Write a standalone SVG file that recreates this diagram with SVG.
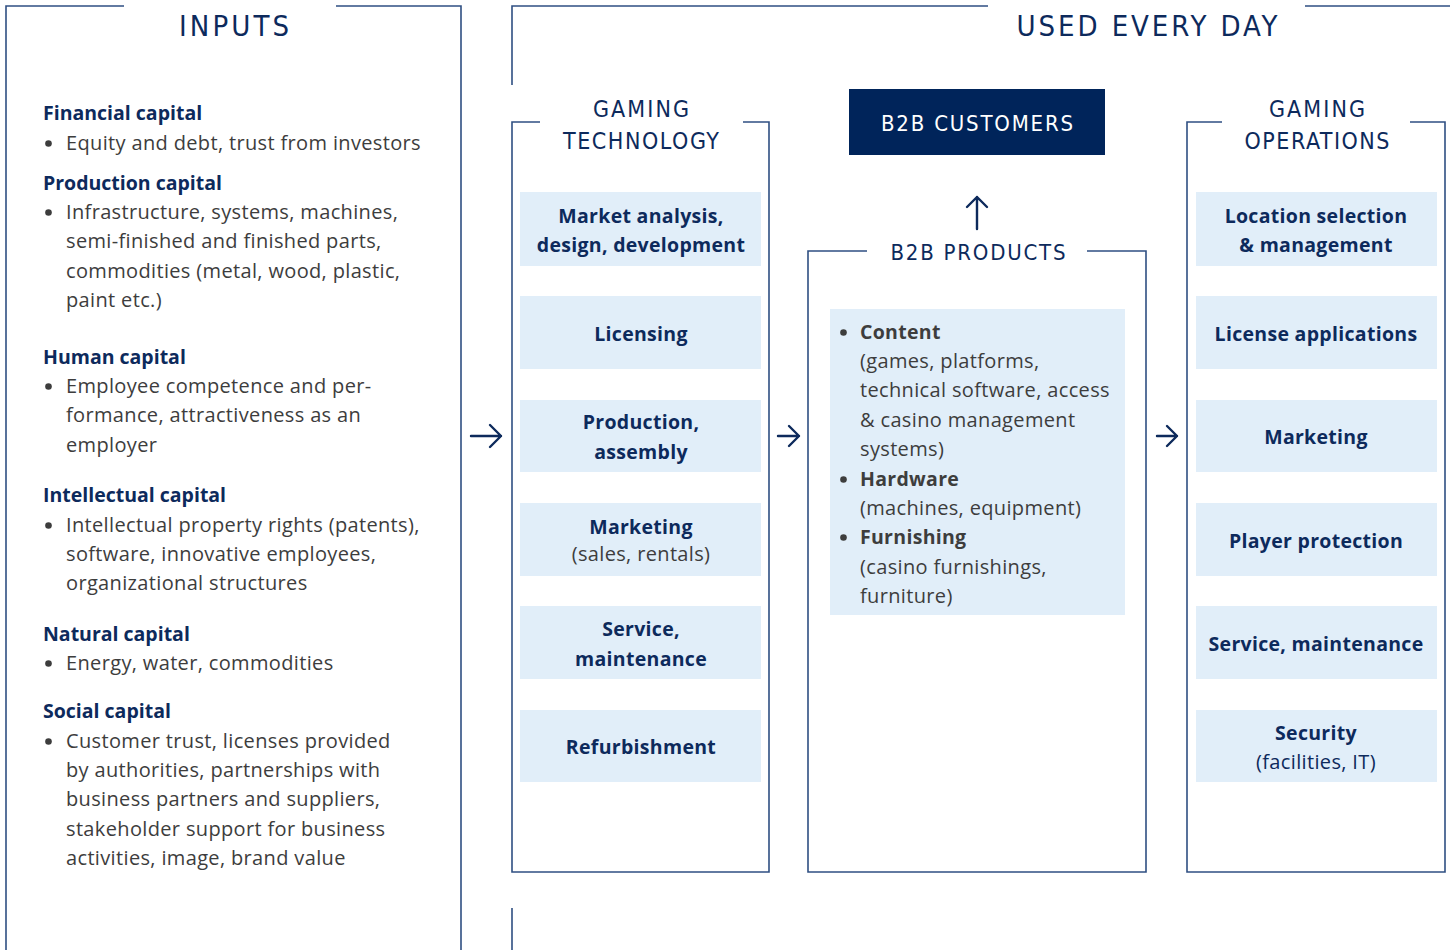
<svg xmlns="http://www.w3.org/2000/svg" width="1450" height="950" viewBox="0 0 1450 950">
<defs>
<style>
.ln{fill:none;stroke:#2f4f82;stroke-width:1.6}
.ar{fill:none;stroke:#0d2a5c;stroke-width:2.4;stroke-linecap:round;stroke-linejoin:round}
.ttl{font-family:"DejaVu Sans Condensed","DejaVu Sans","Liberation Sans",sans-serif;font-stretch:condensed;fill:#0d2a5c;text-anchor:middle}
.h{font-family:"Open Sans","Noto Sans",sans-serif;font-weight:700;font-size:19.5px;fill:#0d2a5c}
.b{font-family:"Open Sans","Noto Sans",sans-serif;font-size:20px;letter-spacing:0.35px;fill:#3d3d3d}
.nb{font-family:"Open Sans","Noto Sans",sans-serif;font-weight:700;font-size:19.5px;letter-spacing:0.3px;fill:#0d2a5c;text-anchor:middle}
.nr{font-family:"Open Sans","Noto Sans",sans-serif;font-size:20px;letter-spacing:0.35px;fill:#3d3d3d;text-anchor:middle}
.nrb{font-family:"Open Sans","Noto Sans",sans-serif;font-size:20px;letter-spacing:0.35px;fill:#0d2a5c;text-anchor:middle}
.bx{fill:#e1eef9}
.dot{fill:#3d3d3d}
.mb{font-family:"Open Sans","Noto Sans",sans-serif;font-weight:700;font-size:19.5px;letter-spacing:0.3px;fill:#3d3d3d}
</style>
</defs>

<g id="inputs">
<path class="ln" d="M124,6 H6 V950 M336,6 H461 V950"/>
<text class="ttl" x="234" y="36" font-size="29" textLength="110" lengthAdjust="spacing">INPUTS</text>
<text class="h" x="43" y="120">Financial capital</text>
<circle class="dot" cx="48.5" cy="143.5" r="3.3"/><text class="b" x="66" y="150">Equity and debt, trust from investors</text>
<text class="h" x="43" y="190">Production capital</text>
<circle class="dot" cx="48.5" cy="212.5" r="3.3"/><text class="b" x="66" y="219">Infrastructure, systems, machines,</text>
<text class="b" x="66" y="248">semi-finished and finished parts,</text>
<text class="b" x="66" y="278">commodities (metal, wood, plastic,</text>
<text class="b" x="66" y="307">paint etc.)</text>
<text class="h" x="43" y="364">Human capital</text>
<circle class="dot" cx="48.5" cy="386.5" r="3.3"/><text class="b" x="66" y="393">Employee competence and per-</text>
<text class="b" x="66" y="422">formance, attractiveness as an</text>
<text class="b" x="66" y="452">employer</text>
<text class="h" x="43" y="502">Intellectual capital</text>
<circle class="dot" cx="48.5" cy="525.5" r="3.3"/><text class="b" x="66" y="532">Intellectual property rights (patents),</text>
<text class="b" x="66" y="561">software, innovative employees,</text>
<text class="b" x="66" y="590">organizational structures</text>
<text class="h" x="43" y="641">Natural capital</text>
<circle class="dot" cx="48.5" cy="663.5" r="3.3"/><text class="b" x="66" y="670">Energy, water, commodities</text>
<text class="h" x="43" y="718">Social capital</text>
<circle class="dot" cx="48.5" cy="741.5" r="3.3"/><text class="b" x="66" y="748">Customer trust, licenses provided</text>
<text class="b" x="66" y="777">by authorities, partnerships with</text>
<text class="b" x="66" y="806">business partners and suppliers,</text>
<text class="b" x="66" y="836">stakeholder support for business</text>
<text class="b" x="66" y="865">activities, image, brand value</text>
</g>

<g id="used-every-day">
<path class="ln" d="M512,85 V6 H988 M1305,6 H1450 M512,908 V950"/>
<text class="ttl" x="1147" y="36" font-size="29" textLength="261" lengthAdjust="spacing">USED EVERY DAY</text>
</g>

<g id="gaming-technology">
<path class="ln" d="M540,122 H512 V872 H769 V122 H743"/>
<text class="ttl" x="641" y="117" font-size="23" textLength="96" lengthAdjust="spacing">GAMING</text>
<text class="ttl" x="641" y="149" font-size="23" textLength="156" lengthAdjust="spacing">TECHNOLOGY</text>
</g>
<g id="gt-market"><rect class="bx" x="520" y="192" width="241" height="74"/><text class="nb" x="641" y="223">Market analysis,</text><text class="nb" x="641" y="252">design, development</text></g>
<g id="gt-licensing"><rect class="bx" x="520" y="296" width="241" height="73"/><text class="nb" x="641" y="341">Licensing</text></g>
<g id="gt-production"><rect class="bx" x="520" y="400" width="241" height="72"/><text class="nb" x="641" y="429">Production,</text><text class="nb" x="641" y="459">assembly</text></g>
<g id="gt-marketing"><rect class="bx" x="520" y="503" width="241" height="73"/><text class="nb" x="641" y="534">Marketing</text><text class="nr" x="641" y="561">(sales, rentals)</text></g>
<g id="gt-service"><rect class="bx" x="520" y="606" width="241" height="73"/><text class="nb" x="641" y="636">Service,</text><text class="nb" x="641" y="666">maintenance</text></g>
<g id="gt-refurb"><rect class="bx" x="520" y="710" width="241" height="72"/><text class="nb" x="641" y="754">Refurbishment</text></g>

<g id="b2b-customers">
<rect x="849" y="89" width="256" height="66" fill="#00245a"/>
<text class="ttl" x="977" y="131" font-size="22" style="fill:#fff" textLength="192" lengthAdjust="spacing">B2B CUSTOMERS</text>
</g>

<g id="b2b-products">
<path class="ln" d="M867,251 H808 V872 H1146 V251 H1087"/>
<text class="ttl" x="978" y="260" font-size="22" textLength="175" lengthAdjust="spacing">B2B PRODUCTS</text>
<rect class="bx" x="830" y="309" width="295" height="306"/>
<circle class="dot" cx="843.5" cy="332.5" r="3.3"/><text class="mb" x="860" y="339">Content</text>
<text class="b" x="860" y="368">(games, platforms,</text>
<text class="b" x="860" y="397">technical software, access</text>
<text class="b" x="860" y="427">&amp; casino management</text>
<text class="b" x="860" y="456">systems)</text>
<circle class="dot" cx="843.5" cy="479.5" r="3.3"/><text class="mb" x="860" y="486">Hardware</text>
<text class="b" x="860" y="515">(machines, equipment)</text>
<circle class="dot" cx="843.5" cy="537.5" r="3.3"/><text class="mb" x="860" y="544">Furnishing</text>
<text class="b" x="860" y="574">(casino furnishings,</text>
<text class="b" x="860" y="603">furniture)</text>
</g>

<g id="gaming-operations">
<path class="ln" d="M1222,122 H1187 V872 H1445 V122 H1410"/>
<text class="ttl" x="1317" y="117" font-size="23" textLength="96" lengthAdjust="spacing">GAMING</text>
<text class="ttl" x="1317" y="149" font-size="23" textLength="145" lengthAdjust="spacing">OPERATIONS</text>
</g>
<g id="go-location"><rect class="bx" x="1196" y="192" width="241" height="74"/><text class="nb" x="1316" y="223">Location selection</text><text class="nb" x="1316" y="252">&amp; management</text></g>
<g id="go-license"><rect class="bx" x="1196" y="296" width="241" height="73"/><text class="nb" x="1316" y="341">License applications</text></g>
<g id="go-marketing"><rect class="bx" x="1196" y="400" width="241" height="72"/><text class="nb" x="1316" y="444">Marketing</text></g>
<g id="go-player"><rect class="bx" x="1196" y="503" width="241" height="73"/><text class="nb" x="1316" y="548">Player protection</text></g>
<g id="go-service"><rect class="bx" x="1196" y="606" width="241" height="73"/><text class="nb" x="1316" y="651">Service, maintenance</text></g>
<g id="go-security"><rect class="bx" x="1196" y="710" width="241" height="72"/><text class="nb" x="1316" y="740">Security</text><text class="nrb" x="1316" y="769">(facilities, IT)</text></g>

<g id="connectors">
<path class="ar" d="M471,436 H501 M490,425 L501,436 L490,447"/>
<path class="ar" d="M778,436 H799 M789,426 L799,436 L789,446"/>
<path class="ar" d="M1157,436 H1177 M1167,426 L1177,436 L1167,446"/>
<path class="ar" d="M977,229 V197 M967,207 L977,197 L987,207"/>
</g>
</svg>
